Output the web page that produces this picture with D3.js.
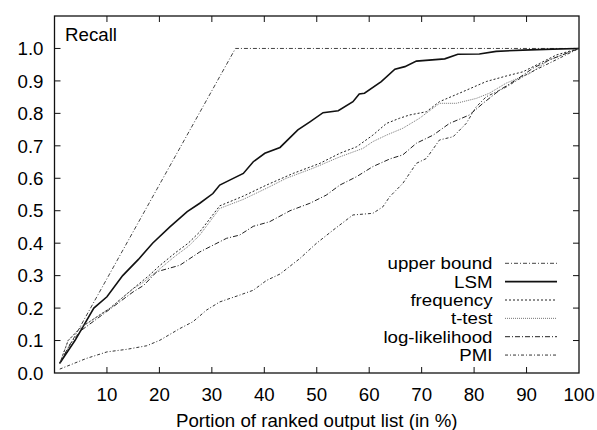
<!DOCTYPE html>
<html>
<head>
<meta charset="utf-8">
<script src="https://cdn.jsdelivr.net/npm/d3@7"></script>
<style>
  body { margin: 0; background: #fff; }
  svg { display: block; font-family: "Liberation Sans", Arial, sans-serif; }
</style>
</head>
<body>
<div id="chart"></div>
<script>
// series values: [portion %, recall]
const upperBound = [[1, 0.03], [34.5, 1.0], [100, 1.0]];
const lsm = [[1, 0.03], [3.9, 0.1], [7.5, 0.2], [10, 0.235], [13, 0.3], [16, 0.35], [18.7, 0.4], [22, 0.45],
  [25.3, 0.497], [27.7, 0.523], [30.2, 0.553], [31.5, 0.579], [33.5, 0.595], [36, 0.615], [37.9, 0.651],
  [40.1, 0.677], [43, 0.695], [46.4, 0.749], [48.7, 0.774], [51.2, 0.802], [54.1, 0.808], [56.9, 0.836],
  [58.1, 0.86], [59.1, 0.862], [62.3, 0.898], [64.9, 0.936], [66.8, 0.944], [69, 0.961], [74.4, 0.968],
  [76.9, 0.982], [81, 0.983], [84.2, 0.991], [89.3, 0.995], [95, 0.998], [100, 1.0]];
const frequency = [[1, 0.03], [2.6, 0.1], [5, 0.14], [10.6, 0.2], [15, 0.26], [18, 0.3], [20, 0.33], [23, 0.37],
  [25.5, 0.4], [27.7, 0.435], [31.5, 0.515], [36, 0.545], [40.4, 0.579], [45.5, 0.615], [50.6, 0.646],
  [54.4, 0.677], [57.6, 0.697], [60.7, 0.733], [63.3, 0.769], [65.8, 0.785], [67.7, 0.795], [70.9, 0.805],
  [73.4, 0.836], [77.9, 0.867], [82.3, 0.898], [86.1, 0.915], [89.3, 0.928], [92.5, 0.954], [95.7, 0.98], [100, 1.0]];
const tTest = [[1, 0.03], [2.6, 0.1], [5, 0.14], [10.6, 0.2], [15, 0.26], [17, 0.28], [18.5, 0.3], [20, 0.32],
  [23, 0.36], [25.5, 0.39], [27.7, 0.425], [31.5, 0.507], [36, 0.535], [40.4, 0.569], [44.2, 0.6], [49.3, 0.631],
  [54.4, 0.666], [58.8, 0.692], [60.7, 0.713], [63.3, 0.733], [66.4, 0.754], [69.6, 0.785], [73.4, 0.831],
  [76.6, 0.831], [80.4, 0.846], [82.9, 0.862], [86.1, 0.893], [90.6, 0.923], [94.4, 0.965], [100, 1.0]];
const logLikelihood = [[1, 0.03], [3, 0.09], [5, 0.13], [10, 0.19], [15, 0.25], [17, 0.27], [19.5, 0.312],
  [23.9, 0.332], [27.7, 0.373], [32.8, 0.415], [35.3, 0.425], [37.9, 0.452], [41, 0.466], [44.9, 0.5],
  [48.7, 0.523], [51.8, 0.548], [54.4, 0.579], [57.6, 0.605], [60.7, 0.636], [64, 0.66], [66.4, 0.672],
  [69, 0.708], [72.2, 0.733], [75.3, 0.769], [79.1, 0.795], [81.7, 0.831], [84.9, 0.872], [88, 0.903],
  [91.2, 0.939], [94.4, 0.965], [100, 1.0]];
const pmi = [[1, 0.012], [6.1, 0.045], [10, 0.065], [13.8, 0.073], [17.6, 0.084], [20.1, 0.101], [23.9, 0.137],
  [26.4, 0.158], [29, 0.194], [31.5, 0.219], [35.3, 0.24], [37.9, 0.255], [40.4, 0.285], [43, 0.305],
  [46.8, 0.353], [49.9, 0.399], [53.1, 0.44], [56.9, 0.487], [60.7, 0.492], [62.6, 0.512], [63.9, 0.543],
  [66.4, 0.584], [69, 0.646], [70.9, 0.661], [73.4, 0.718], [76, 0.728], [78.5, 0.769], [80.4, 0.82],
  [82.3, 0.851], [86, 0.88], [90, 0.92], [95, 0.96], [100, 1.0]];

const seriesNames = ['upper bound', 'LSM', 'frequency', 't-test', 'log-likelihood', 'PMI'];
const xTicks = [10, 20, 30, 40, 50, 60, 70, 80, 90, 100];
const yTicks = [0, 0.1, 0.2, 0.3, 0.4, 0.5, 0.6, 0.7, 0.8, 0.9, 1.0];

const styles = [
  {color: '#444', dash: '4,2,1,2', width: 1},
  {color: '#111', dash: null, width: 1.6},
  {color: '#222', dash: '2,2', width: 1},
  {color: '#777', dash: '1,1', width: 1},
  {color: '#222', dash: '5,2,1,2', width: 1},
  {color: '#333', dash: '3,2,1,2', width: 1}
];
const allData = [upperBound, lsm, frequency, tTest, logLikelihood, pmi];

const W = 597, H = 430;
const margin = {top: 16, right: 18, bottom: 57, left: 54.5};

const svg = d3.select('#chart').append('svg')
  .attr('width', W)
  .attr('height', H);

const x = d3.scaleLinear().domain([0, 100]).range([margin.left, W - margin.right]);
const y = d3.scaleLinear().domain([0, 1.1]).range([H - margin.bottom, margin.top]);

const fontSize = '18.7px';

// ticks (inward, mirrored like gnuplot)
const tickLen = 6;
const axisG = svg.append('g').attr('stroke', '#111').attr('stroke-width', 1);
xTicks.filter(d => d < 100).forEach(d => {
  axisG.append('line').attr('x1', x(d)).attr('x2', x(d)).attr('y1', y(0)).attr('y2', y(0) - tickLen);
  axisG.append('line').attr('x1', x(d)).attr('x2', x(d)).attr('y1', y(1.1)).attr('y2', y(1.1) + tickLen);
});
yTicks.filter(d => d > 0).forEach(d => {
  axisG.append('line').attr('x1', x(0)).attr('x2', x(0) + tickLen).attr('y1', y(d)).attr('y2', y(d));
  axisG.append('line').attr('x1', x(100)).attr('x2', x(100) - tickLen).attr('y1', y(d)).attr('y2', y(d));
});

// tick labels
svg.append('g').selectAll('text')
  .data(xTicks)
  .enter().append('text')
  .attr('x', d => x(d))
  .attr('y', y(0) + 27.5)
  .attr('text-anchor', 'middle')
  .style('font-size', fontSize)
  .text(d => d);

svg.append('g').selectAll('text')
  .data(yTicks)
  .enter().append('text')
  .attr('x', x(0) - 11)
  .attr('y', d => y(d))
  .attr('dy', '0.36em')
  .attr('text-anchor', 'end')
  .style('font-size', fontSize)
  .text(d => d.toFixed(1));

// curves
const line = d3.line().x(d => x(d[0])).y(d => y(d[1]));
svg.append('g').selectAll('path')
  .data(allData)
  .enter().append('path')
  .attr('d', line)
  .attr('fill', 'none')
  .attr('stroke', (d, i) => styles[i].color)
  .attr('stroke-width', (d, i) => styles[i].width)
  .attr('stroke-dasharray', (d, i) => styles[i].dash);

// frame
svg.append('rect')
  .attr('x', x(0)).attr('y', y(1.1))
  .attr('width', x(100) - x(0)).attr('height', y(0) - y(1.1))
  .attr('fill', 'none')
  .attr('stroke', '#111')
  .attr('stroke-width', 1.3);

// legend: rows are tight, so use a slightly smaller font stretched to the same width
const legend = svg.append('g');
const legY0 = 263.3, legStep = 18.35;
seriesNames.forEach((name, i) => {
  const ly = legY0 + i * legStep;
  const t = legend.append('text')
    .attr('x', 492.5).attr('y', ly + 6)
    .attr('text-anchor', 'end')
    .style('font-size', fontSize)
    .text(name);
  const wide = t.node().getComputedTextLength();
  t.style('font-size', '16.3px')
    .attr('textLength', wide)
    .attr('lengthAdjust', 'spacingAndGlyphs');
  legend.append('line')
    .attr('x1', 505).attr('x2', 557).attr('y1', ly).attr('y2', ly)
    .attr('stroke', styles[i].color)
    .attr('stroke-width', styles[i].width)
    .attr('stroke-dasharray', styles[i].dash);
});

svg.append('text')
  .attr('x', 65).attr('y', 41)
  .style('font-size', fontSize)
  .text('Recall');

svg.append('text')
  .attr('x', (x(0) + x(100)) / 2).attr('y', 426.5)
  .attr('text-anchor', 'middle')
  .style('font-size', fontSize)
  .text('Portion of ranked output list (in %)');
</script>
</body>
</html>
